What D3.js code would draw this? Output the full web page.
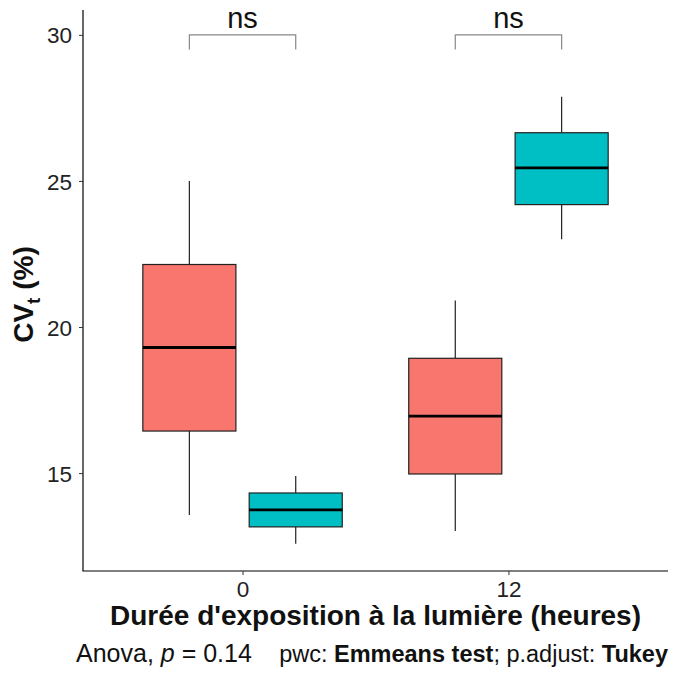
<!DOCTYPE html>
<html>
<head>
<meta charset="utf-8">
<script src="https://cdn.jsdelivr.net/npm/d3@7"></script>
<style>
  body { margin: 0; background: #fff; }
  text { font-family: "Liberation Sans", Arial, sans-serif; }
</style>
</head>
<body>
<script>
// Données
const groupes = ["0", "12"];
const traitements = ["A", "B"];
const couleurs = ["#F8766D", "#00BFC4"];
// [min, q1, médiane, q3, max] pour chaque groupe/traitement
const boitesA = [[13.57, 16.44, 19.3, 22.14, 25.0], [13.02, 14.97, 16.95, 18.93, 20.91]];
const boitesB = [[12.58, 13.16, 13.74, 14.32, 14.9], [23.0, 24.19, 25.45, 26.65, 27.88]];
const yTicks = [15, 20, 25, 30];
const signif = ["ns", "ns"];
const yBracket = 30;

const width = 680, height = 680;
const margin = { top: 10, right: 12, bottom: 109, left: 83 };

const svg = d3.select("body").append("svg")
  .attr("width", width)
  .attr("height", height);

const x = d3.scalePoint()
  .domain(groupes)
  .range([margin.left, width - margin.right])
  .padding(0.6);
const pas = x.step();
const decal = { A: -0.2 * pas, B: 0.2 * pas };
const bw = 0.35 * pas;

const y = d3.scaleLinear()
  .domain([11.65, 30.85])
  .range([height - margin.bottom, margin.top]);

// Axes
const axeX = svg.append("g")
  .attr("transform", `translate(0,${height - margin.bottom})`)
  .call(d3.axisBottom(x).tickSizeOuter(0).tickSize(4).tickPadding(6));
const axeY = svg.append("g")
  .attr("transform", `translate(${margin.left},0)`)
  .call(d3.axisLeft(y).tickValues(yTicks).tickSizeOuter(0).tickSize(4).tickPadding(7));

// lignes d'axe tracées à la main (sans petits bouts aux extrémités)
axeX.select(".domain").attr("d", `M${margin.left - 0.5},0H${width - margin.right}`);
axeY.select(".domain").attr("d", `M0,${height - margin.bottom}V${margin.top}`);

[axeX, axeY].forEach(a => {
  a.select(".domain").attr("stroke", "#000").attr("stroke-width", 1.2);
  a.selectAll(".tick line").attr("stroke", "#333");
  a.selectAll(".tick text").attr("fill", "#222").style("font-size", "22.5px");
});
axeY.selectAll(".tick text").attr("dy", "0.36em");

// Boîtes
const donnees = [];
groupes.forEach((g, i) => {
  donnees.push({ g, t: "A", v: boitesA[i], c: couleurs[0] });
  donnees.push({ g, t: "B", v: boitesB[i], c: couleurs[1] });
});

const boite = svg.append("g").selectAll("g")
  .data(donnees)
  .join("g")
  .attr("transform", d => `translate(${x(d.g) + decal[d.t]},0)`);

boite.append("line")
  .attr("x1", 0).attr("x2", 0)
  .attr("y1", d => y(d.v[0])).attr("y2", d => y(d.v[1]))
  .attr("stroke", "#222").attr("stroke-width", 1.2);
boite.append("line")
  .attr("x1", 0).attr("x2", 0)
  .attr("y1", d => y(d.v[3])).attr("y2", d => y(d.v[4]))
  .attr("stroke", "#222").attr("stroke-width", 1.2);
boite.append("rect")
  .attr("x", -bw / 2).attr("width", bw)
  .attr("y", d => y(d.v[3]))
  .attr("height", d => y(d.v[1]) - y(d.v[3]))
  .attr("fill", d => d.c)
  .attr("stroke", "#222").attr("stroke-width", 1.2);
boite.append("line")
  .attr("x1", -bw / 2).attr("x2", bw / 2)
  .attr("y1", d => y(d.v[2])).attr("y2", d => y(d.v[2]))
  .attr("stroke", "#000").attr("stroke-width", 2.8);

// Crochets de significativité
const crochets = svg.append("g").selectAll("g")
  .data(groupes)
  .join("g");
crochets.append("path")
  .attr("d", g => {
    const x1 = x(g) + decal.A, x2 = x(g) + decal.B;
    const yb = y(yBracket), yt = y(yBracket - 0.5);
    return `M${x1},${yt}V${yb}H${x2}V${yt}`;
  })
  .attr("fill", "none").attr("stroke", "#888").attr("stroke-width", 1.2);
crochets.append("text")
  .attr("x", g => x(g))
  .attr("y", y(yBracket) - 7)
  .attr("text-anchor", "middle")
  .style("font-size", "29px")
  .attr("fill", "#111")
  .text((g, i) => signif[i]);

// Titres
svg.append("text")
  .attr("x", (margin.left + width - margin.right) / 2)
  .attr("y", 625)
  .attr("text-anchor", "middle")
  .style("font-size", "28px").style("font-weight", "bold")
  .attr("fill", "#111")
  .text("Durée d'exposition à la lumière (heures)");

const ty = svg.append("text")
  .attr("transform", `translate(33,${(margin.top + height - margin.bottom) / 2 + 4}) rotate(-90)`)
  .attr("text-anchor", "middle")
  .style("font-size", "28px").style("font-weight", "bold")
  .attr("fill", "#111");
ty.append("tspan").text("CV");
ty.append("tspan").attr("dy", 7).style("font-size", "19px").text("t");
ty.append("tspan").attr("dy", -7).text(" (%)");

// Légende du test
const cap1 = svg.append("text")
  .attr("x", 76).attr("y", 662)
  .style("font-size", "25px").attr("fill", "#111");
cap1.append("tspan").text("Anova, ");
cap1.append("tspan").style("font-style", "italic").text("p");
cap1.append("tspan").text(" = 0.14");

const cap2 = svg.append("text")
  .attr("x", 668).attr("y", 662)
  .attr("text-anchor", "end")
  .style("font-size", "23.5px").attr("fill", "#111");
cap2.append("tspan").text("pwc: ");
cap2.append("tspan").style("font-weight", "bold").text("Emmeans test");
cap2.append("tspan").text("; p.adjust: ");
cap2.append("tspan").style("font-weight", "bold").text("Tukey");
</script>
</body>
</html>
